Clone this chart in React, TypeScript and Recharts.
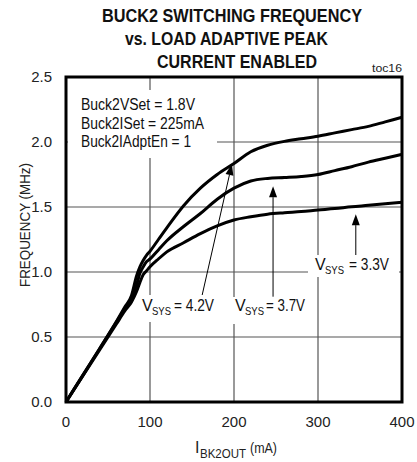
import React from 'react';
import { LineChart, Line, XAxis, YAxis, CartesianGrid, ReferenceLine, ReferenceArea } from 'recharts';

// Load current (mA)
const loadCurrentMA = [0, 20, 40, 60, 70, 78, 84, 88, 92, 96, 100, 110, 120, 140, 160, 180, 200, 220, 240, 260, 280, 300, 320, 340, 360, 380, 400];
// Switching frequency (MHz) for each VSYS
const freqVsys42 = [0, 0.205, 0.41, 0.62, 0.73, 0.82, 0.97, 1.04, 1.09, 1.13, 1.16, 1.25, 1.34, 1.51, 1.645, 1.75, 1.835, 1.925, 1.975, 2.005, 2.025, 2.045, 2.07, 2.095, 2.12, 2.155, 2.19];
const freqVsys37 = [0, 0.205, 0.41, 0.615, 0.72, 0.8, 0.9, 0.99, 1.04, 1.08, 1.1, 1.17, 1.24, 1.35, 1.45, 1.56, 1.645, 1.7, 1.72, 1.727, 1.735, 1.75, 1.78, 1.81, 1.845, 1.875, 1.905];
const freqVsys33 = [0, 0.2, 0.4, 0.6, 0.7, 0.77, 0.85, 0.92, 0.98, 1.01, 1.04, 1.1, 1.155, 1.225, 1.295, 1.355, 1.4, 1.425, 1.445, 1.456, 1.465, 1.477, 1.488, 1.502, 1.513, 1.525, 1.536];

const xTicks = [0, 100, 200, 300, 400];
const yTicks = [0, 0.5, 1.0, 1.5, 2.0, 2.5];

// Annotation leader arrows (tail -> tip) in data units
const arrow42 = [{ x: 162, y: 0.82 }, { x: 197.5, y: 1.83 }];
const arrow37 = [{ x: 246.5, y: 0.81 }, { x: 246.5, y: 1.66 }];
const arrow33 = [{ x: 345, y: 1.13 }, { x: 345, y: 1.445 }];

const data = loadCurrentMA.map((x, i) => ({
  x,
  v42: freqVsys42[i],
  v37: freqVsys37[i],
  v33: freqVsys33[i],
}));

const FONT = '"Liberation Sans", Arial, Helvetica, sans-serif';

const ArrowShape = (props: any) => {
  const { x1, y1, x2, y2 } = props;
  const dx = x2 - x1;
  const dy = y2 - y1;
  const len = Math.sqrt(dx * dx + dy * dy) || 1;
  const ux = dx / len;
  const uy = dy / len;
  const headLen = 11;
  const headHalf = 4;
  const bx = x2 - ux * headLen;
  const by = y2 - uy * headLen;
  const px = -uy;
  const py = ux;
  const pts = `${x2},${y2} ${bx + px * headHalf},${by + py * headHalf} ${bx - px * headHalf},${by - py * headHalf}`;
  return (
    <g>
      <line x1={x1} y1={y1} x2={bx} y2={by} stroke="#000" strokeWidth={1} />
      <polygon points={pts} fill="#000" />
    </g>
  );
};

const VsysLabel = ({ x, y, restX, restW, value }: { x: number; y: number; restX: number; restW: number; value: string }) => (
  <g fill="#111">
    <text x={x} y={y} fontSize={16}>V</text>
    <text x={x + 10} y={y + 4} fontSize={11.5} textLength={19} lengthAdjust="spacingAndGlyphs">SYS</text>
    <text x={restX} y={y} fontSize={16} textLength={restW} lengthAdjust="spacingAndGlyphs">{value}</text>
  </g>
);

export default function App() {
  return (
    <div style={{ position: 'absolute', left: 0, top: 0, width: 417, height: 462, background: '#fff', fontFamily: FONT }}>
      <LineChart
        width={417}
        height={462}
        data={data}
        margin={{ top: 77, right: 15, bottom: 0, left: 0 }}
      >
        <CartesianGrid stroke="#555" strokeWidth={1.2} />
        <XAxis
          dataKey="x"
          type="number"
          domain={[0, 400]}
          ticks={xTicks}
          height={60}
          axisLine={false}
          tickLine={false}
          tickSize={0}
          tickMargin={14}
          tick={{ fontSize: 15, fill: '#222', fontFamily: FONT }}
        />
        <YAxis
          type="number"
          domain={[0, 2.5]}
          ticks={yTicks}
          width={66}
          axisLine={false}
          tickLine={false}
          tickSize={0}
          tickMargin={14}
          tickFormatter={(v: number) => v.toFixed(1)}
          tick={{ fontSize: 15, fill: '#222', fontFamily: FONT }}
        />
        <Line type="monotone" dataKey="v42" stroke="#000" strokeWidth={3} dot={false} isAnimationActive={false} />
        <Line type="monotone" dataKey="v37" stroke="#000" strokeWidth={3} dot={false} isAnimationActive={false} />
        <Line type="monotone" dataKey="v33" stroke="#000" strokeWidth={3} dot={false} isAnimationActive={false} />
        <ReferenceLine segment={arrow42} shape={ArrowShape} ifOverflow="visible" />
        <ReferenceLine segment={arrow37} shape={ArrowShape} ifOverflow="visible" />
        <ReferenceLine segment={arrow33} shape={ArrowShape} ifOverflow="visible" />
        <ReferenceArea x1={0} x2={400} y1={0} y2={2.5} fill="none" fillOpacity={0} stroke="#000" strokeWidth={3} ifOverflow="visible" />
      </LineChart>
      <svg
        width={417}
        height={462}
        style={{ position: 'absolute', left: 0, top: 0, pointerEvents: 'none' }}
        fontFamily={FONT}
      >
        {/* Title */}
        <text x={102} y={22} fontSize={18.5} fontWeight="bold" fill="#111" textLength={260} lengthAdjust="spacingAndGlyphs">BUCK2 SWITCHING FREQUENCY</text>
        <text x={125} y={45} fontSize={18.5} fontWeight="bold" fill="#111" textLength={203} lengthAdjust="spacingAndGlyphs">vs. LOAD ADAPTIVE PEAK</text>
        <text x={157} y={68} fontSize={18.5} fontWeight="bold" fill="#111" textLength={160} lengthAdjust="spacingAndGlyphs">CURRENT ENABLED</text>
        <text x={372} y={72} fontSize={11.5} fill="#222" textLength={30} lengthAdjust="spacingAndGlyphs">toc16</text>

        {/* Settings box */}
        <rect x={68} y={90} width={149} height={68} fill="#fff" />
        <text x={81} y={110} fontSize={16} fill="#111" textLength={114} lengthAdjust="spacingAndGlyphs">Buck2VSet = 1.8V</text>
        <text x={81} y={129} fontSize={16} fill="#111" textLength={123} lengthAdjust="spacingAndGlyphs">Buck2ISet = 225mA</text>
        <text x={81} y={147} fontSize={16} fill="#111" textLength={110} lengthAdjust="spacingAndGlyphs">Buck2IAdptEn = 1</text>

        {/* VSYS labels */}
        <rect x={140} y={295} width={80} height={27} fill="#fff" />
        <VsysLabel x={142} y={311} restX={174} restW={40} value="= 4.2V" />
        <rect x={231} y={297} width={78} height={27} fill="#fff" />
        <VsysLabel x={235} y={311} restX={266} restW={39} value="= 3.7V" />
        <rect x={308} y={255} width={91} height={22} fill="#fff" />
        <VsysLabel x={315} y={270} restX={349} restW={40} value="= 3.3V" />

        {/* Axis titles */}
        <text transform="translate(29.5,225) rotate(-90)" textAnchor="middle" fontSize={15} fill="#222" textLength={124} lengthAdjust="spacingAndGlyphs">FREQUENCY (MHz)</text>
        <text x={195} y={453} fontSize={16} fill="#222">I</text>
        <text x={200} y={458} fontSize={12} fill="#222" textLength={46} lengthAdjust="spacingAndGlyphs">BK2OUT</text>
        <text x={250} y={453} fontSize={15} fill="#222" textLength={27} lengthAdjust="spacingAndGlyphs">(mA)</text>
      </svg>
    </div>
  );
}
